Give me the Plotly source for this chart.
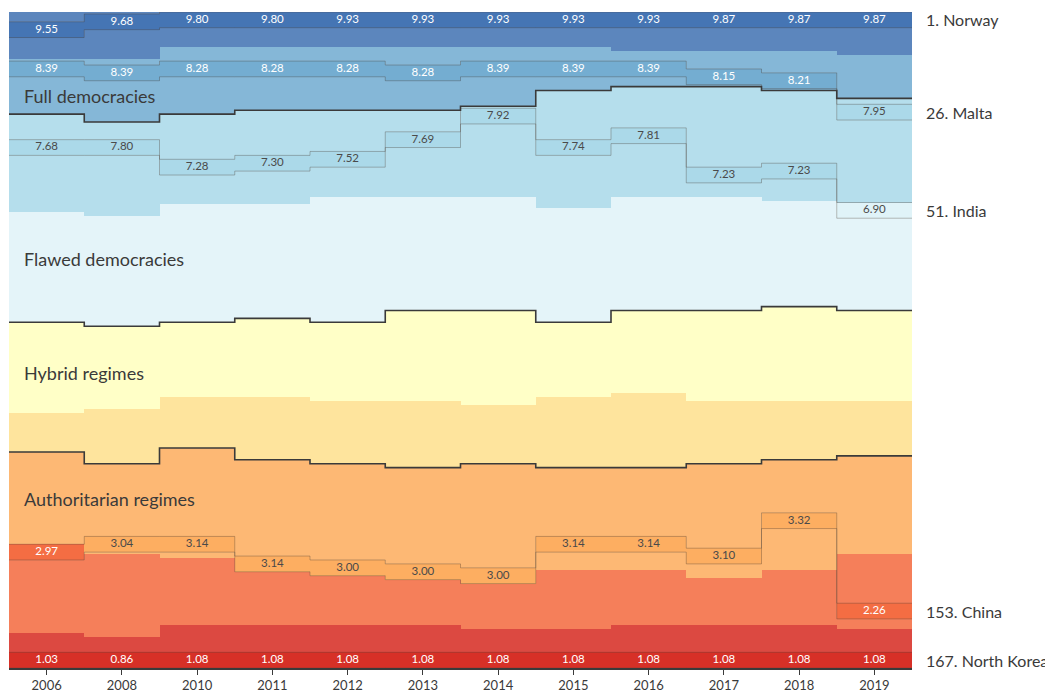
import plotly.graph_objects as go

years = ["2006", "2008", "2010", "2011", "2012", "2013", "2014", "2015", "2016", "2017", "2018", "2019"]
n_countries = 167

# cumulative rank reached at the lower edge of each score band
edge_9 = [12, 12, 9, 9, 9, 9, 9, 9, 10, 10, 10, 11]               # score >= 9
full_end = [26, 28, 26, 25, 25, 25, 24, 20, 19, 19, 20, 22]        # full democracies
edge_7 = [51, 52, 49, 49, 47, 47, 47, 50, 47, 47, 48, 50]          # score >= 7
flawed_end = [79, 80, 79, 78, 79, 76, 76, 79, 76, 76, 75, 76]      # flawed democracies
edge_5 = [102, 101, 98, 98, 99, 99, 100, 98, 97, 99, 99, 99]       # score >= 5
hybrid_end = [112, 115, 111, 114, 115, 116, 115, 116, 116, 115, 114, 113]  # hybrid regimes
edge_3 = [137, 138, 139, 142, 143, 144, 145, 142, 142, 144, 142, 138]      # score >= 3
edge_2 = [158, 159, 156, 156, 156, 156, 157, 157, 156, 156, 156, 157]      # score >= 2

# highlighted countries: rank and score per year
norway_rank = [5, 3, 1, 1, 1, 1, 1, 1, 1, 1, 1, 1]
norway_score = [9.55, 9.68, 9.80, 9.80, 9.93, 9.93, 9.93, 9.93, 9.93, 9.87, 9.87, 9.87]
malta_rank = [15, 16, 15, 15, 15, 16, 15, 15, 15, 17, 18, 26]
malta_score = [8.39, 8.39, 8.28, 8.28, 8.28, 8.28, 8.39, 8.39, 8.39, 8.15, 8.21, 7.95]
india_rank = [35, 35, 40, 39, 38, 33, 27, 35, 32, 42, 41, 51]
india_score = [7.68, 7.80, 7.28, 7.30, 7.52, 7.69, 7.92, 7.74, 7.81, 7.23, 7.23, 6.90]
china_rank = [138, 136, 136, 141, 142, 143, 144, 136, 136, 139, 130, 153]
china_score = [2.97, 3.04, 3.14, 3.14, 3.00, 3.00, 3.00, 3.14, 3.14, 3.10, 3.32, 2.26]
nk_rank = [167] * 12
nk_score = [1.03, 0.86, 1.08, 1.08, 1.08, 1.08, 1.08, 1.08, 1.08, 1.08, 1.08, 1.08]

countries = [
    ("1. Norway", norway_rank, norway_score),
    ("26. Malta", malta_rank, malta_score),
    ("51. India", india_rank, india_score),
    ("153. China", china_rank, china_score),
    ("167. North Korea", nk_rank, nk_score),
]

category_labels = ["Full democracies", "Flawed democracies", "Hybrid regimes", "Authoritarian regimes"]

# RdYlBu palette, best band first
palette = ["#4575b4", "#74add1", "#abd9e9", "#e0f3f8", "#ffffbf", "#fee090", "#fdae61", "#f46d43", "#d73027"]
thresholds = [9, 8, 7, 6, 5, 4, 3, 2]


def rgba(hexc, a):
    h = hexc.lstrip("#")
    r, g, b = int(h[0:2], 16), int(h[2:4], 16), int(h[4:6], 16)
    return f"rgba({r},{g},{b},{a})"


def score_color(s):
    for i, t in enumerate(thresholds):
        if s >= t:
            return palette[i]
    return palette[-1]


def text_color(s):
    return "white" if (s >= 8 or s < 3) else "#4a4a4a"


FONT = "Lato"
x = list(range(len(years)))
x_edges = [i - 0.5 for i in range(len(years) + 1)]

fig = go.Figure()

edges = [[0] * 12, edge_9, full_end, edge_7, flawed_end, edge_5, hybrid_end, edge_3, edge_2, [n_countries] * 12]
for k in range(9):
    base = edges[k]
    height = [b - a for a, b in zip(edges[k], edges[k + 1])]
    fig.add_trace(go.Bar(x=x, y=height, base=base, width=1,
                         marker=dict(color=rgba(palette[k], 0.88), line=dict(width=0)),
                         hoverinfo="skip", showlegend=False))

BOX = 4
for name, ranks, scores in countries:
    tops = []
    for r in ranks:
        top = max(0, r - 0.5 - BOX / 2)
        if top + BOX > n_countries:
            top = n_countries - BOX
        tops.append(top)
    bottoms = [t + BOX for t in tops]
    centers = [t + BOX / 2 for t in tops]
    fig.add_trace(go.Bar(x=x, y=[BOX] * 12, base=tops, width=1,
                         marker=dict(color=[score_color(s) for s in scores], line=dict(width=0)),
                         hoverinfo="skip", showlegend=False))
    for edge in (tops, bottoms):
        fig.add_trace(go.Scatter(x=x_edges, y=edge + [edge[-1]], mode="lines",
                                 line=dict(shape="hv", color="rgba(80,70,60,0.35)", width=1),
                                 hoverinfo="skip", showlegend=False))
    fig.add_trace(go.Scatter(x=x, y=centers, mode="text",
                             text=[f"{s:.2f}" for s in scores],
                             textfont=dict(family=FONT, size=11.5, color=[text_color(s) for s in scores]),
                             hoverinfo="skip", showlegend=False))
    fig.add_annotation(x=1, xref="paper", xshift=12, xanchor="left", y=centers[-1], yref="y",
                       text=name, showarrow=False,
                       font=dict(family=FONT, size=16, color="#3a3a3a"))

for line in (full_end, flawed_end, hybrid_end):
    fig.add_trace(go.Scatter(x=x_edges, y=line + [line[-1]], mode="lines",
                             line=dict(shape="hv", color="#3a3a3a", width=1.6),
                             hoverinfo="skip", showlegend=False))

label_y = [21.3, 63, 92, 124]
for lab, yy in zip(category_labels, label_y):
    fig.add_annotation(x=0.014, xref="paper", xanchor="left", y=yy, yref="y",
                       text=lab, showarrow=False,
                       font=dict(family=FONT, size=18, color="#3a3a3a"))

fig.update_layout(
    width=1045, height=686,
    margin=dict(l=1, r=141, t=4, b=22),
    paper_bgcolor="white", plot_bgcolor="white",
    barmode="overlay", bargap=0,
    font=dict(family=FONT, color="#3a3a3a"),
)
fig.update_xaxes(range=[-0.5, 11.5], tickvals=x, ticktext=years, ticks="outside", ticklen=5,
                 tickcolor="#3a3a3a", showline=True, linecolor="#3a3a3a", linewidth=1.5,
                 showgrid=False, zeroline=False, tickfont=dict(family=FONT, size=13, color="#3a3a3a"))
fig.update_yaxes(range=[n_countries, 0], visible=False, showgrid=False, zeroline=False)

fig.write_html("out.html")
